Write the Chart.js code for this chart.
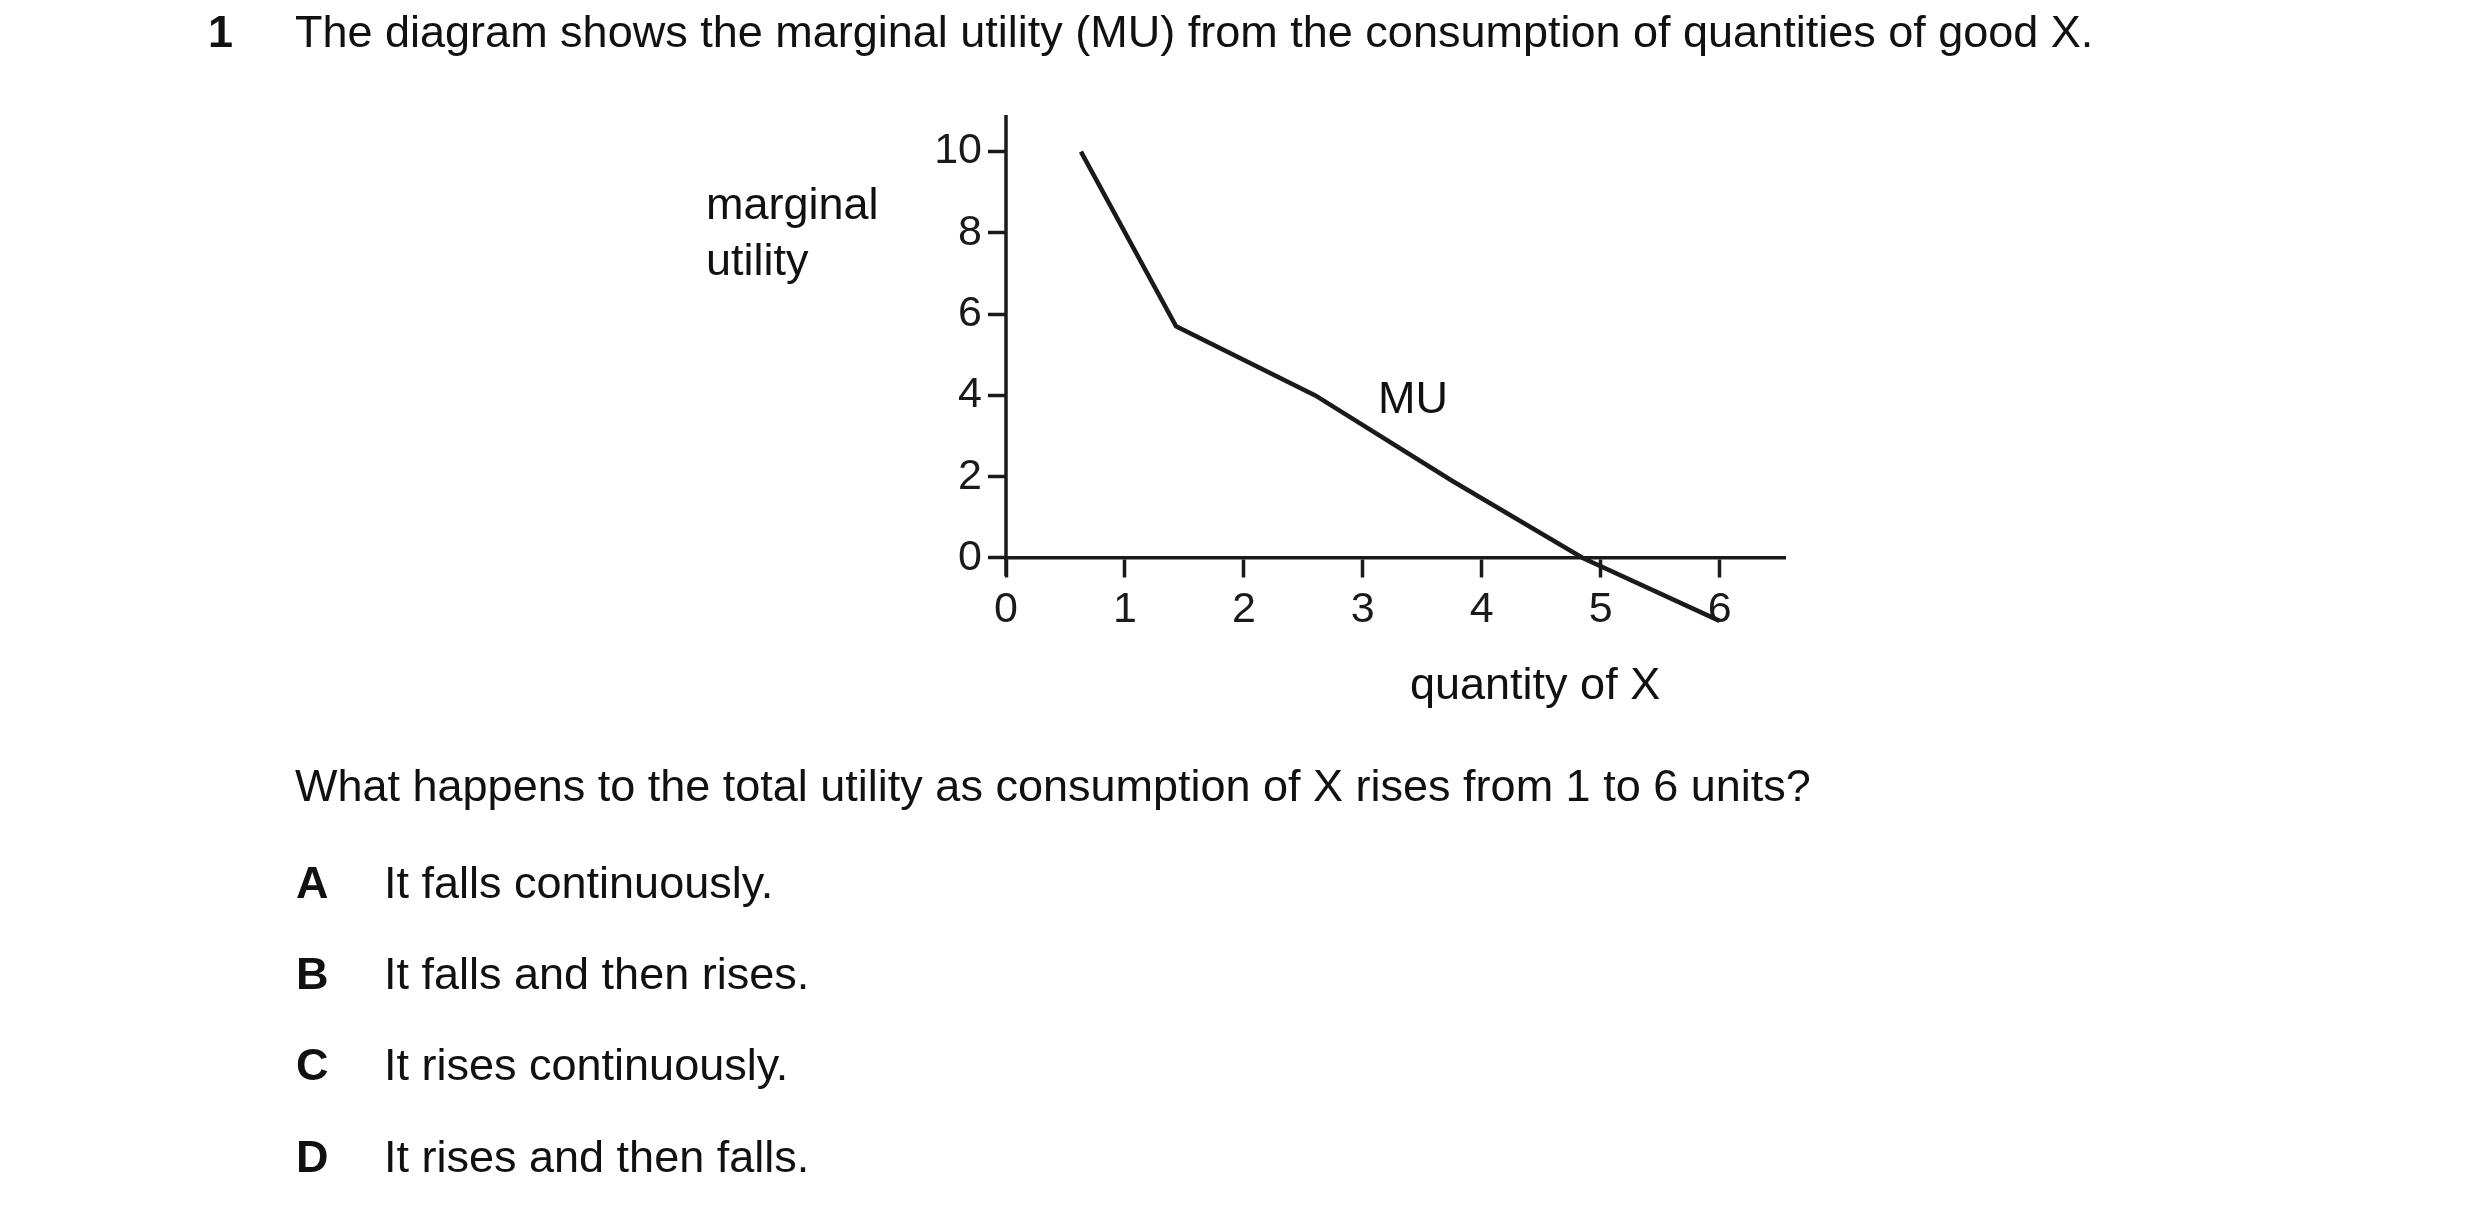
<!DOCTYPE html>
<html><head><meta charset="utf-8">
<script src="https://cdn.jsdelivr.net/npm/chart.js@4/dist/chart.umd.min.js"></script>
<style>
body{margin:0;width:2480px;height:1210px;background:#fff;font-family:"Liberation Sans",Arial,sans-serif;color:#111;overflow:hidden;position:relative}
.t{position:absolute;font-size:45px;line-height:50px;white-space:nowrap}
b{font-weight:bold}
canvas{position:absolute;left:0;top:0}
</style></head><body>
<canvas id="c" width="2480" height="1210"></canvas>
<div class="t" style="left:208px;top:7px"><b>1</b></div>
<div class="t" style="left:295px;top:7px">The diagram shows the marginal utility (MU) from the consumption of quantities of good X.</div>
<div class="t" style="left:706px;top:176px;line-height:56px">marginal<br>utility</div>
<div class="t" style="left:1378px;top:373px">MU</div>
<div class="t" style="left:1410px;top:659px">quantity of X</div>
<div class="t" style="left:295px;top:761px">What happens to the total utility as consumption of X rises from 1 to 6 units?</div>
<div class="t" style="left:296px;top:858px"><b>A</b></div><div class="t" style="left:384px;top:858px">It falls continuously.</div>
<div class="t" style="left:296px;top:949px"><b>B</b></div><div class="t" style="left:384px;top:949px">It falls and then rises.</div>
<div class="t" style="left:296px;top:1040px"><b>C</b></div><div class="t" style="left:384px;top:1040px">It rises continuously.</div>
<div class="t" style="left:296px;top:1132px"><b>D</b></div><div class="t" style="left:384px;top:1132px">It rises and then falls.</div>
<script>
const quantity = [0.63, 1.43, 2.6, 3.75, 4.85, 6.0];
const marginalUtility = [10, 5.7, 4.0, 1.9, 0, -1.55];
const xTicks = [0,1,2,3,4,5,6];
const yTicks = [0,2,4,6,8,10];
const font = {family:'"Liberation Sans", Arial, sans-serif', size:43};
const yAxisLine = {id:'yAxisLine', afterDraw(ch){
  const c=ch.ctx, x=ch.scales.x.getPixelForValue(0), y=ch.scales.y;
  c.save(); c.strokeStyle='#1a1a1a'; c.lineWidth=3.5;
  c.beginPath(); c.moveTo(x, y.getPixelForValue(10.9)); c.lineTo(x, y.getPixelForValue(0)+18); c.stroke(); c.restore();
}};
new Chart(document.getElementById('c'), {
  type:'scatter',
  data:{datasets:[{data:quantity.map((x,i)=>({x, y:marginalUtility[i]})), showLine:true, borderColor:'#1a1a1a', borderWidth:4.5, pointRadius:0, tension:0}]},
  options:{
    responsive:false, animation:false, events:[],
    layout:{padding:{left:906,right:695,top:115,bottom:583}},
    plugins:{legend:{display:false},tooltip:{enabled:false}},
    scales:{
      x:{type:'linear', min:0, max:6.55, position:{y:0},
        afterBuildTicks:s=>{s.ticks=xTicks.map(v=>({value:v}));},
        grid:{drawOnChartArea:false, drawTicks:true, tickLength:18, tickWidth:3.5, tickColor:'#1a1a1a'},
        border:{display:true, color:'#1a1a1a', width:3.5},
        ticks:{color:'#1a1a1a', font, padding:8, maxRotation:0}},
      y:{type:'linear', min:-1.7, max:10.9, position:'left',
        afterFit:s=>{s.width=100;},
        afterBuildTicks:s=>{s.ticks=yTicks.map(v=>({value:v}));},
        grid:{drawOnChartArea:false, drawTicks:true, tickLength:18, tickWidth:3.5, tickColor:'#1a1a1a'},
        border:{display:false},
        ticks:{color:'#1a1a1a', font, padding:6}}
    }
  },
  plugins:[yAxisLine]
});
</script>
</body></html>
